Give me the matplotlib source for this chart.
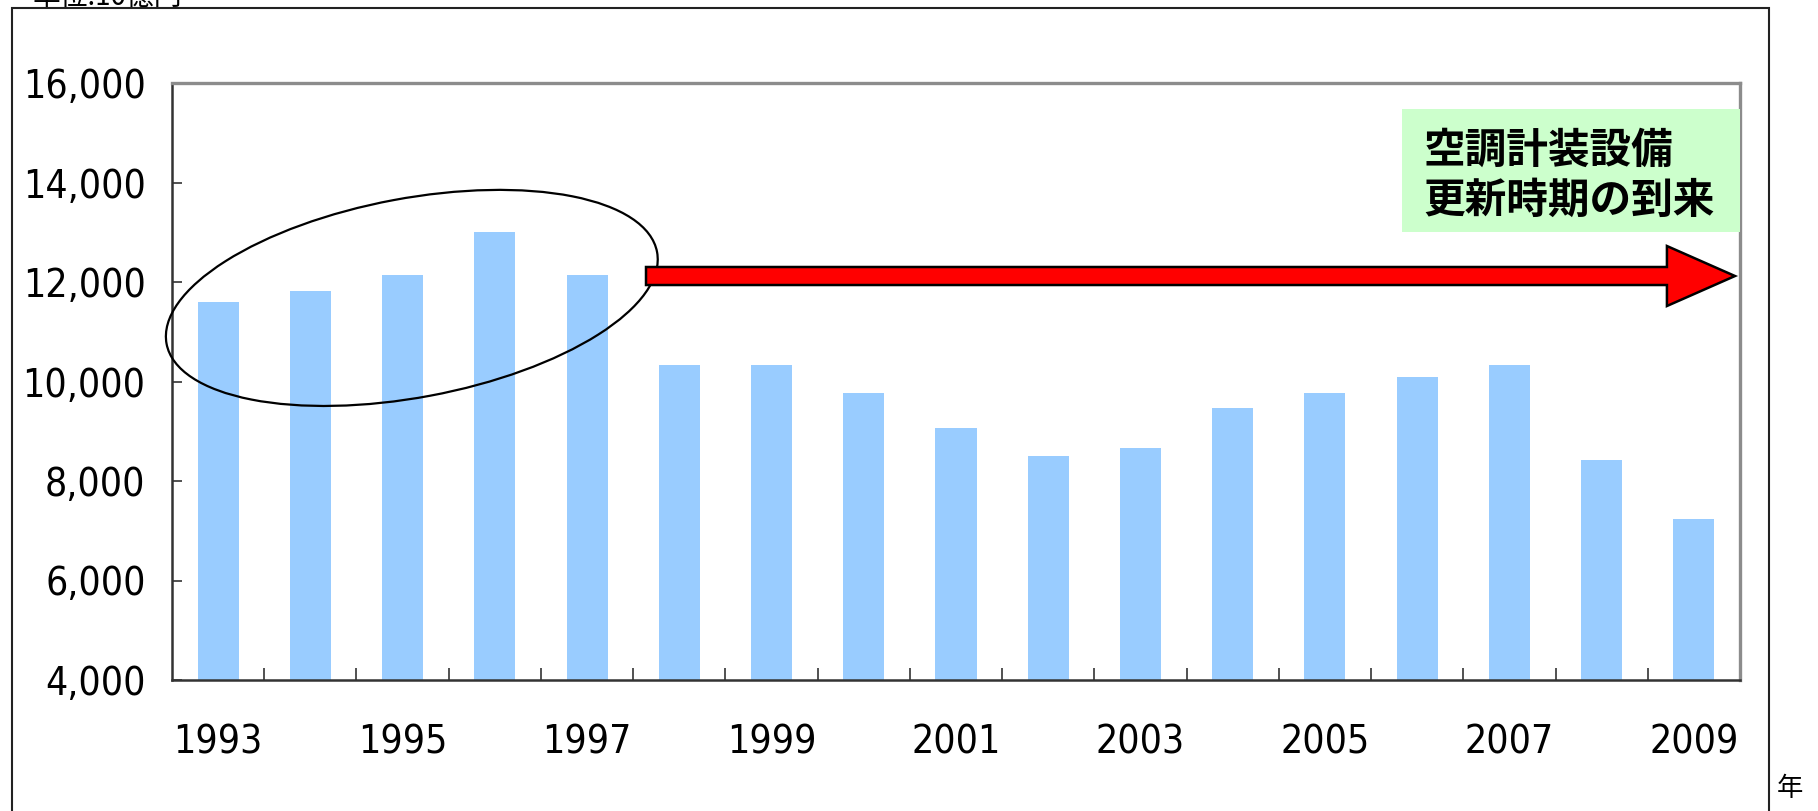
import matplotlib
matplotlib.use('Agg')
import matplotlib.pyplot as plt
from matplotlib import font_manager
from matplotlib.patches import Ellipse, FancyArrow, Rectangle
from matplotlib.ticker import FixedLocator, FuncFormatter
import matplotlib.transforms as mtransforms

years = list(range(1993, 2010))
values = [11600, 11820, 12140, 13000, 12140, 10330, 10330, 9770, 9060,
          8500, 8660, 9470, 9770, 10090, 10330, 8420, 7240]
y_ticks = [4000, 6000, 8000, 10000, 12000, 14000, 16000]
label_years = years[::2]

unit_text = '単位:10億円'
year_text = '年'
box_text = '空調計装設備\n更新時期の到来'

jp_font = ['Noto Sans CJK JP', 'DejaVu Sans']

# narrow face for the numbers, if one is installed
narrow = [f for f in font_manager.fontManager.ttflist
          if ('Narrow' in f.name or 'Condensed' in f.name
              or f.stretch in ('condensed', 'semi-condensed', 'extra-condensed'))
          and f.weight in (400, 'normal', 'regular') and f.style == 'normal']
if narrow:
    num_prop = font_manager.FontProperties(fname=narrow[0].fname, size=28)
else:
    num_prop = font_manager.FontProperties(family='DejaVu Sans', size=23)

W, H = 1818, 811
fig = plt.figure(figsize=(W / 100, H / 100), dpi=100)
ax = fig.add_axes([172 / W, 131 / H, 1568 / W, 597 / H])

xs = list(range(len(years)))
ax.bar(xs, values, width=0.445, color='#99CCFF', zorder=2)
ax.set_xlim(-0.5, len(years) - 0.5)
ax.set_ylim(y_ticks[0], y_ticks[-1])

# y axis
ax.set_yticks(y_ticks)
ax.yaxis.set_major_formatter(FuncFormatter(lambda v, p: f'{int(v):,}'))
ax.tick_params(axis='y', direction='in', length=7, width=1.2, color='#333333',
               pad=19)
for lab in ax.get_yticklabels():
    lab.set_fontproperties(num_prop)

# x axis: labels every other year, ticks between categories
ax.xaxis.set_major_locator(FixedLocator([years.index(y) for y in label_years]))
ax.set_xticklabels([str(y) for y in label_years])
ax.xaxis.set_minor_locator(FixedLocator([i + 0.5 for i in xs[:-1]]))
ax.tick_params(axis='x', which='major', length=0, pad=31)
ax.tick_params(axis='x', which='minor', direction='in', length=8.5, width=1.2,
               color='#333333')
for lab in ax.get_xticklabels():
    lab.set_fontproperties(num_prop)

for side in ('left', 'bottom'):
    ax.spines[side].set_color('#333333')
    ax.spines[side].set_linewidth(1.8)
for side in ('top', 'right'):
    ax.spines[side].set_color('#8c8c8c')
    ax.spines[side].set_linewidth(2.4)

# ellipse around 1993-1997 (size in inches, centre in data coords)
ell_tr = fig.dpi_scale_trans + mtransforms.ScaledTranslation(2.1, 11680, ax.transData)
ax.add_patch(Ellipse((0, 0), 4.99, 1.99, angle=10.6, transform=ell_tr,
                     fill=False, edgecolor='black', linewidth=1.6,
                     zorder=4, clip_on=False))

# red arrow
ax.add_patch(FancyArrow(0.3023, 0.6767, 0.6945, 0, width=0.0302,
                        head_width=0.1005, head_length=0.0434,
                        length_includes_head=True, transform=ax.transAxes,
                        facecolor='#FF0000', edgecolor='black', linewidth=1.8,
                        zorder=5, clip_on=False))

# green label box
ax.add_patch(Rectangle((0.7844, 0.7504), 0.2156, 0.206, transform=ax.transAxes,
                       facecolor='#CCFFCC', edgecolor='none', zorder=3))
ax.text(0.798, 0.845, box_text, transform=ax.transAxes, ha='left', va='center',
        fontsize=30, fontweight='bold', family=jp_font, linespacing=1.25,
        zorder=6)

# outer frame
fig.patches.append(Rectangle((12 / W, -0.05), (1769 - 12) / W, 1.05 - 8 / H,
                             transform=fig.transFigure, fill=False,
                             edgecolor='#222222', linewidth=1.5))

fig.text(32 / W, 1 - 5 / H, unit_text, ha='left', va='baseline',
         fontsize=20, family=jp_font)
fig.text(1777 / W, 1 - 802 / H, year_text, ha='left', va='bottom',
         fontsize=19, family=jp_font)

fig.savefig('out.png', dpi=100)
